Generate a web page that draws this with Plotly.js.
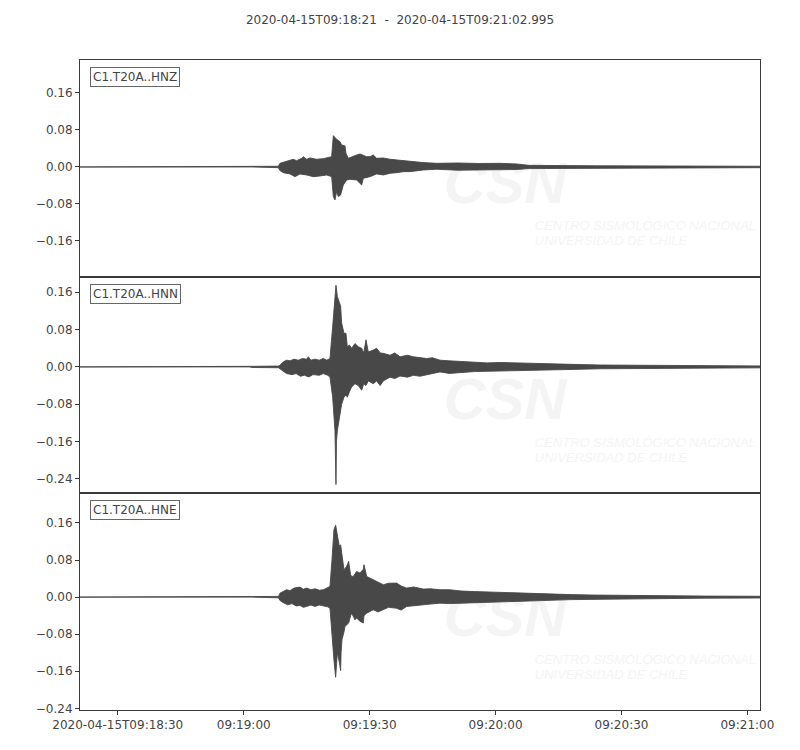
<!DOCTYPE html>
<html>
<head>
<meta charset="utf-8">
<script src="https://cdn.plot.ly/plotly-3.0.1.min.js"></script>
<style>body{margin:0;background:#fff}#chart{width:800px;height:750px}</style>
</head>
<body>
<div id="chart"></div>
<script>
// Seconds after 2020-04-15T09:18:21; upper (max) and lower (min) envelope of each channel
const channelNames = ["C1.T20A..HNZ", "C1.T20A..HNN", "C1.T20A..HNE"];

const tUpHNZ = [0, 41.0, 41.3, 44, 47.24, 47.64, 48.44, 50.02, 50.82, 51.61, 52.80, 53.20, 54.0, 54.79, 56.38, 57.96, 59.16, 59.95, 60.35, 61.14, 61.93, 62.33, 63.13, 63.36, 63.92, 64.71, 65.90, 66.70, 68.29, 69.08, 69.87, 70.67, 72.26, 73.85, 75.43, 77.02, 78.61, 80.20, 81.78, 84.96, 90, 95, 100, 104, 107, 123, 140, 162];
const upHNZ  = [0, 0, 0.0012, 0.0014, 0.0015, 0.0079, 0.0101, 0.013, 0.0166, 0.0137, 0.0187, 0.0223, 0.0166, 0.0195, 0.0166, 0.018, 0.0209, 0.0223, 0.0677, 0.0598, 0.0548, 0.0476, 0.0454, 0.0296, 0.0187, 0.0223, 0.0259, 0.0281, 0.0223, 0.0223, 0.0259, 0.0187, 0.0195, 0.0166, 0.0151, 0.0130, 0.0130, 0.0101, 0.0094, 0.0079, 0.0086, 0.0075, 0.0079, 0.0065, 0.0035, 0.0025, 0.002, 0.0015];
const tLoHNZ = [0, 41.0, 41.3, 44, 47.24, 47.64, 48.44, 50.02, 51.22, 52.41, 54.0, 55.58, 57.17, 58.76, 59.95, 60.35, 60.74, 61.14, 61.54, 62.09, 62.73, 63.52, 64.32, 65.90, 66.70, 67.10, 67.49, 69.08, 70.67, 72.26, 73.85, 75.43, 77.02, 78.61, 81.78, 84.96, 90, 95, 100, 104, 107, 123, 140, 162];
const loHNZ  = [0, 0, -0.001, -0.0012, -0.0015, -0.0079, -0.0123, -0.0151, -0.0209, -0.0151, -0.0173, -0.0209, -0.0195, -0.0173, -0.0209, -0.0641, -0.0713, -0.0533, -0.0641, -0.0605, -0.0389, -0.0281, -0.0267, -0.0281, -0.0353, -0.0389, -0.0245, -0.0209, -0.0151, -0.0173, -0.0137, -0.0123, -0.0101, -0.0101, -0.0065, -0.005, -0.007, -0.0065, -0.006, -0.0055, -0.0035, -0.0025, -0.002, -0.0015];

const tUpHNN = [0, 40.5, 40.8, 47.3, 47.64, 48.44, 49.2, 50.02, 51, 52, 53, 54.0, 54.39, 55, 56, 57, 57.96, 58.8, 59.55, 60.19, 60.5, 60.74, 60.98, 61.3, 61.78, 62.09, 62.33, 62.89, 63.36, 63.68, 64.16, 64.71, 65.51, 66.30, 67.10, 67.6, 68.13, 68.68, 69.87, 70.67, 71.5, 72.26, 73.85, 75, 76.23, 78, 79.40, 81, 82.58, 84, 85.76, 88, 91, 94, 97, 100, 103, 110, 117, 124, 131, 145, 162];
const upHNN  = [0, 0, 0.0012, 0.0018, 0.0036, 0.0108, 0.0144, 0.0130, 0.0165, 0.0144, 0.018, 0.0165, 0.0216, 0.0144, 0.0165, 0.0144, 0.018, 0.0144, 0.018, 0.0865, 0.120, 0.151, 0.175, 0.151, 0.137, 0.130, 0.094, 0.072, 0.072, 0.043, 0.047, 0.040, 0.050, 0.043, 0.040, 0.030, 0.058, 0.032, 0.036, 0.040, 0.030, 0.029, 0.025, 0.030, 0.0216, 0.025, 0.0216, 0.0195, 0.018, 0.0195, 0.0144, 0.013, 0.012, 0.0095, 0.0086, 0.0095, 0.0086, 0.007, 0.0055, 0.004, 0.0035, 0.0025, 0.002];
const tLoHNN = [0, 40.5, 40.8, 47.3, 47.64, 48.44, 49.2, 50.5, 51.5, 52.5, 53.5, 54.5, 55.5, 57, 57.96, 59, 59.55, 60.19, 60.5, 60.74, 60.98, 61.1, 61.3, 61.78, 62.09, 62.33, 62.89, 63.36, 63.68, 64.16, 64.71, 65.51, 66.30, 67.10, 67.6, 68.13, 68.68, 69.87, 70.67, 71.5, 72.26, 73.85, 75, 76.23, 78, 79.40, 81, 82.58, 84, 85.76, 88, 91, 94, 97, 103, 110, 117, 124, 131, 145, 162];
const loHNN  = [0, 0, -0.0012, -0.0018, -0.0036, -0.010, -0.0144, -0.0165, -0.0144, -0.020, -0.018, -0.0216, -0.0165, -0.018, -0.0144, -0.018, -0.0216, -0.065, -0.100, -0.137, -0.252, -0.16, -0.137, -0.115, -0.094, -0.080, -0.065, -0.060, -0.065, -0.054, -0.043, -0.036, -0.040, -0.050, -0.036, -0.040, -0.030, -0.036, -0.030, -0.040, -0.030, -0.022, -0.025, -0.0195, -0.022, -0.018, -0.020, -0.016, -0.0144, -0.0108, -0.014, -0.012, -0.010, -0.0086, -0.0086, -0.007, -0.0055, -0.004, -0.0035, -0.0025, -0.002];

const tUpHNE = [0, 41, 41.3, 47.3, 47.64, 48.44, 49.2, 50.02, 51, 52.4, 53.2, 54.0, 55, 56, 57, 57.96, 58.8, 59.55, 60.03, 60.5, 60.9, 61.14, 61.3, 61.78, 62.09, 62.41, 62.89, 63.13, 63.52, 64.0, 64.47, 64.71, 65.11, 65.51, 65.9, 66.7, 67.5, 67.65, 68.29, 69.87, 71, 72.26, 73.5, 75.43, 76.5, 77.81, 79.5, 81.78, 83.5, 85.76, 88, 91, 94, 97, 100, 103, 110, 117, 122, 135, 149, 162];
const upHNE  = [0, 0, 0.001, 0.0015, 0.0086, 0.0123, 0.0159, 0.0140, 0.0195, 0.0216, 0.017, 0.0195, 0.016, 0.018, 0.015, 0.0159, 0.019, 0.0231, 0.0807, 0.1456, 0.155, 0.140, 0.131, 0.1095, 0.113, 0.088, 0.059, 0.062, 0.066, 0.077, 0.048, 0.045, 0.0447, 0.050, 0.0555, 0.052, 0.060, 0.070, 0.0447, 0.0375, 0.033, 0.0267, 0.030, 0.0303, 0.024, 0.0195, 0.022, 0.0173, 0.018, 0.0159, 0.016, 0.013, 0.012, 0.011, 0.010, 0.009, 0.0075, 0.0054, 0.0045, 0.003, 0.0022, 0.0018];
const tLoHNE = [0, 41, 41.3, 47.3, 47.64, 48.44, 49.5, 50.5, 51.5, 52.4, 53.2, 54.0, 55, 56, 57, 57.96, 59, 59.55, 60.03, 60.5, 60.9, 61.14, 61.3, 61.78, 62.09, 62.2, 62.41, 62.89, 63.13, 63.52, 64.0, 64.47, 64.71, 65.11, 65.51, 65.9, 66.7, 67.5, 67.65, 68.29, 69.87, 71, 72.26, 73.5, 75.43, 76.5, 77.81, 79.5, 81.78, 83.5, 85.76, 88, 91, 97, 103, 110, 117, 122, 135, 149, 162];
const loHNE  = [0, 0, -0.001, -0.0015, -0.0072, -0.012, -0.0166, -0.014, -0.019, -0.018, -0.022, -0.0202, -0.017, -0.020, -0.017, -0.0187, -0.021, -0.0238, -0.085, -0.1355, -0.173, -0.1427, -0.120, -0.140, -0.1586, -0.12, -0.092, -0.075, -0.063, -0.060, -0.056, -0.040, -0.0346, -0.042, -0.049, -0.045, -0.052, -0.056, -0.040, -0.0346, -0.0274, -0.032, -0.0274, -0.022, -0.024, -0.028, -0.0202, -0.018, -0.0166, -0.015, -0.013, -0.014, -0.013, -0.011, -0.009, -0.0075, -0.0054, -0.0045, -0.003, -0.0022, -0.0018];

const yRanges = [[-0.2372, 0.2313], [-0.271, 0.1934], [-0.2436, 0.224]];
const xRange = [0, 161.995];
const xTickVals = [9, 39, 69, 99, 129, 159];
const xTickText = ["2020-04-15T09:18:30", "09:19:00", "09:19:30", "09:20:00", "09:20:30", "09:21:00"];
const yTickVals = [-0.24, -0.16, -0.08, 0, 0.08, 0.16];
const titleText = "2020-04-15T09:18:21  -  2020-04-15T09:21:02.995";
const watermarkTitle = "CSN";
const watermarkLines = ["CENTRO SISMOLÓGICO NACIONAL", "UNIVERSIDAD DE CHILE"];

const series = [
  [tUpHNZ, upHNZ, tLoHNZ, loHNZ],
  [tUpHNN, upHNN, tLoHNN, loHNN],
  [tUpHNE, upHNE, tLoHNE, loHNE]
];
const waveColor = "#484848";
const textColor = "#454545";
const axisColor = "#3a3a3a";
const markColor = "#f4f4f4";
const font = "DejaVu Sans, Liberation Sans, sans-serif";

const traces = series.map(function (s, i) {
  return {
    type: "scatter", mode: "lines",
    x: s[0].concat(s[2].slice().reverse()),
    y: s[1].concat(s[3].slice().reverse()),
    fill: "toself", fillcolor: waveColor,
    line: {color: waveColor, width: 0.9},
    xaxis: i === 0 ? "x" : "x" + (i + 1),
    yaxis: i === 0 ? "y" : "y" + (i + 1),
    hoverinfo: "skip", showlegend: false
  };
});

const layout = {
  width: 800, height: 750,
  margin: {l: 80, r: 40, t: 60, b: 40},
  paper_bgcolor: "#fff", plot_bgcolor: "rgba(0,0,0,0)",
  font: {family: font, size: 12, color: textColor},
  title: {text: titleText, x: 0.5, xanchor: "center", y: 1 - 20 / 750, yanchor: "middle", yref: "container",
          font: {family: font, size: 12, color: textColor}},
  showlegend: false,
  annotations: [], shapes: []
};

const domains = [[2 / 3, 1], [1 / 3, 2 / 3], [0, 1 / 3]];
for (let i = 0; i < 3; i++) {
  const xa = i === 0 ? "xaxis" : "xaxis" + (i + 1);
  const ya = i === 0 ? "yaxis" : "yaxis" + (i + 1);
  const yref = i === 0 ? "y" : "y" + (i + 1);
  const xref = i === 0 ? "x" : "x" + (i + 1);
  layout[xa] = {
    domain: [0, 1], anchor: yref, range: xRange,
    showline: true, mirror: true, linecolor: axisColor, linewidth: 1,
    showgrid: false, zeroline: false,
    tickmode: "array", tickvals: xTickVals, ticktext: xTickText,
    ticks: i === 2 ? "outside" : "", ticklen: 4, tickcolor: axisColor,
    showticklabels: i === 2,
    tickfont: {family: font, size: 12, color: textColor}
  };
  if (i < 2) layout[xa].matches = "x3";
  layout[ya] = {
    domain: domains[i], anchor: xref, range: yRanges[i],
    showline: true, mirror: true, linecolor: axisColor, linewidth: 1,
    showgrid: false, zeroline: false,
    tickmode: "array", tickvals: yTickVals, tickformat: ".2f",
    ticks: "outside", ticklen: 4, tickcolor: axisColor,
    tickfont: {family: font, size: 12, color: textColor}
  };
  layout.annotations.push({
    text: channelNames[i], xref: xref + " domain", yref: yref + " domain",
    x: 0, y: 1, xanchor: "left", yanchor: "top", xshift: 10, yshift: -7,
    showarrow: false, font: {family: font, size: 12, color: textColor},
    bgcolor: "#fff", bordercolor: "#666", borderwidth: 1, borderpad: 2
  });
  // faint watermark behind the traces
  layout.shapes.push({
    type: "rect", layer: "below", xref: xref + " domain", yref: yref + " domain",
    x0: 0.54, x1: 0.71, y0: 0.32, y1: 0.60, line: {width: 0}, fillcolor: "rgba(0,0,0,0)",
    label: {text: watermarkTitle, textposition: "middle center",
            font: {family: "Liberation Sans, sans-serif", size: 58, color: markColor, weight: "bold", style: "italic"}}
  });
  watermarkLines.forEach(function (line, k) {
    layout.shapes.push({
      type: "rect", layer: "below", xref: xref + " domain", yref: yref + " domain",
      x0: 0.66, x1: 0.99, y0: 0.205 - 0.07 * k, y1: 0.275 - 0.07 * k, line: {width: 0}, fillcolor: "rgba(0,0,0,0)",
      label: {text: line, textposition: "middle left",
              font: {family: "Liberation Sans, sans-serif", size: 13, color: markColor, style: "italic"}}
    });
  });
}

Plotly.newPlot("chart", traces, layout, {displayModeBar: false, staticPlot: true});
</script>
</body>
</html>
